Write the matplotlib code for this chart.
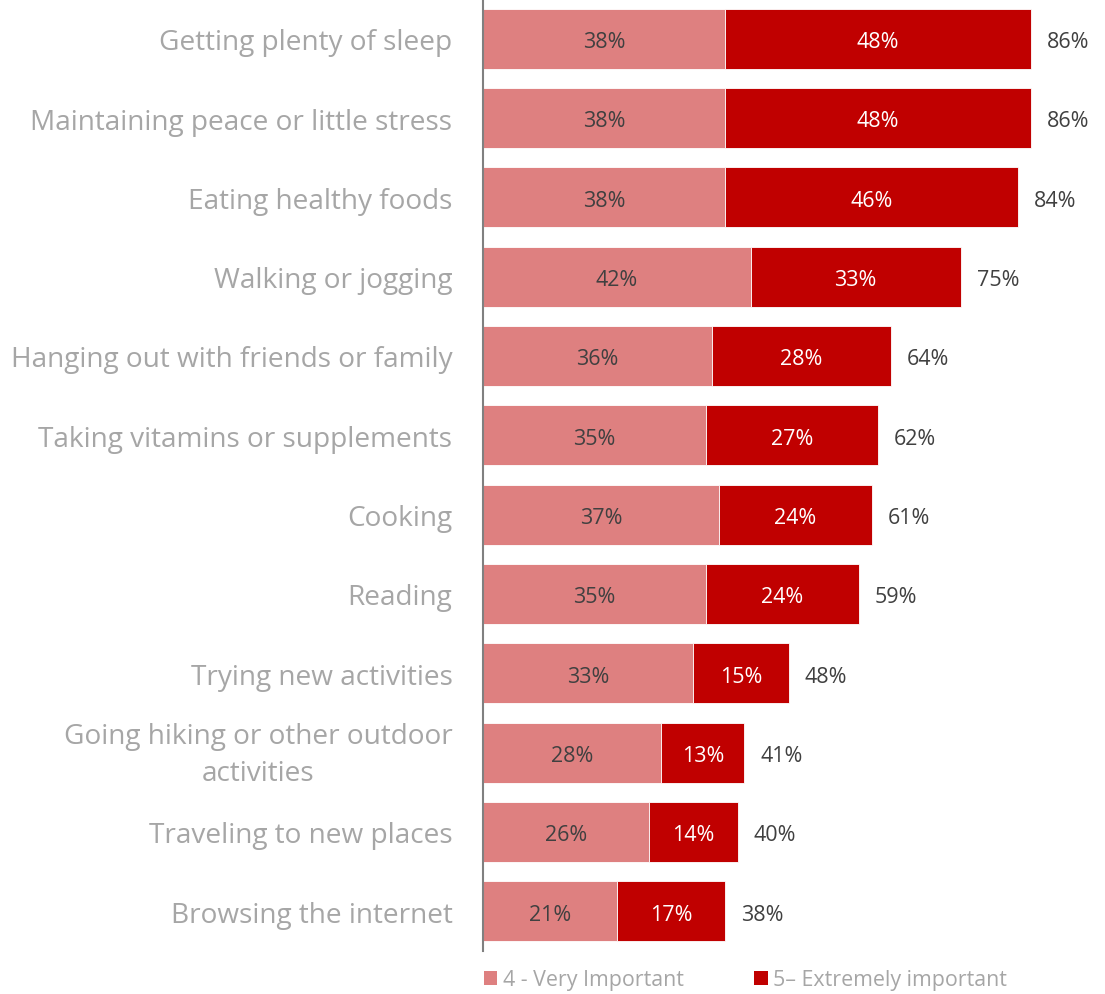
import matplotlib
matplotlib.use("Agg")
import matplotlib.pyplot as plt
from matplotlib.patches import Patch

plt.rcParams['font.family'] = ['Open Sans', 'DejaVu Sans']

categories = [
    "Getting plenty of sleep",
    "Maintaining peace or little stress",
    "Eating healthy foods",
    "Walking or jogging",
    "Hanging out with friends or family",
    "Taking vitamins or supplements",
    "Cooking",
    "Reading",
    "Trying new activities",
    "Going hiking or other outdoor\nactivities",
    "Traveling to new places",
    "Browsing the internet",
]
very_important = [38, 38, 38, 42, 36, 35, 37, 35, 33, 28, 26, 21]
extremely_important = [48, 48, 46, 33, 28, 27, 24, 24, 15, 13, 14, 17]
totals = [86, 86, 84, 75, 64, 62, 61, 59, 48, 41, 40, 38]
series_names = ["4 - Very Important", "5\u2013 Extremely important"]

LIGHT = "#DE8080"
DARK = "#C00000"
LABEL_GREY = "#A6A6A6"
VALUE_GREY = "#404040"

W, H = 1105, 995
fig = plt.figure(figsize=(W / 100, H / 100), dpi=100)
ax = fig.add_axes([483 / W, (H - 952) / H, (W - 483) / W, 952 / H])

y = list(range(len(categories)))
bar_h = 0.76
ax.barh(y, very_important, height=bar_h, color=LIGHT, edgecolor="white", linewidth=0.6)
ax.barh(y, extremely_important, left=very_important, height=bar_h, color=DARK,
        edgecolor="white", linewidth=0.6)

VAL_FS = 15.5
DY = -2
for i in y:
    a, b, t = very_important[i], extremely_important[i], totals[i]
    ax.annotate(f"{a}%", xy=(a / 2, i), xytext=(0, DY), textcoords="offset points",
                ha="center", va="center", fontsize=VAL_FS, color=VALUE_GREY)
    ax.annotate(f"{b}%", xy=(a + b / 2, i), xytext=(0, DY), textcoords="offset points",
                ha="center", va="center", fontsize=VAL_FS, color="white")
    ax.annotate(f"{t}%", xy=(a + b, i), xytext=(11.5, DY), textcoords="offset points",
                ha="left", va="center", fontsize=VAL_FS, color=VALUE_GREY)

ax.set_xlim(0, (W - 483) / 6.37)
ax.set_ylim(len(categories) - 0.5, -0.5)
ax.set_yticks(y)

# Category names: single-line ones as tick labels, wrapped ones drawn as
# annotations so the two lines sit centred on the bar.
CAT_FS = 20.2
PAD = 22
ax.set_yticklabels(["" if "\n" in c else c for c in categories],
                   fontsize=CAT_FS, color=LABEL_GREY)
for i, c in enumerate(categories):
    if "\n" in c:
        ax.annotate(c, xy=(0, i), xytext=(-PAD, -1.3), textcoords="offset points",
                    ha="right", va="center", multialignment="center",
                    linespacing=1.45, fontsize=CAT_FS, color=LABEL_GREY,
                    annotation_clip=False)
ax.tick_params(axis="y", length=0, pad=PAD)
ax.set_xticks([])
for s in ["top", "right", "bottom"]:
    ax.spines[s].set_visible(False)
ax.spines["left"].set_color("#808080")
ax.spines["left"].set_linewidth(1.5)

handles = [Patch(facecolor=LIGHT), Patch(facecolor=DARK)]
fig.legend(handles, series_names, loc="center left", bbox_to_anchor=(484 / W, 1 - 981 / H),
           ncol=2, frameon=False, fontsize=15.4, labelcolor=LABEL_GREY,
           borderpad=0, borderaxespad=0,
           handlelength=0.63, handleheight=0.63, handletextpad=0.25, columnspacing=3.3)

fig.savefig("out.png", dpi=100, facecolor="white")
